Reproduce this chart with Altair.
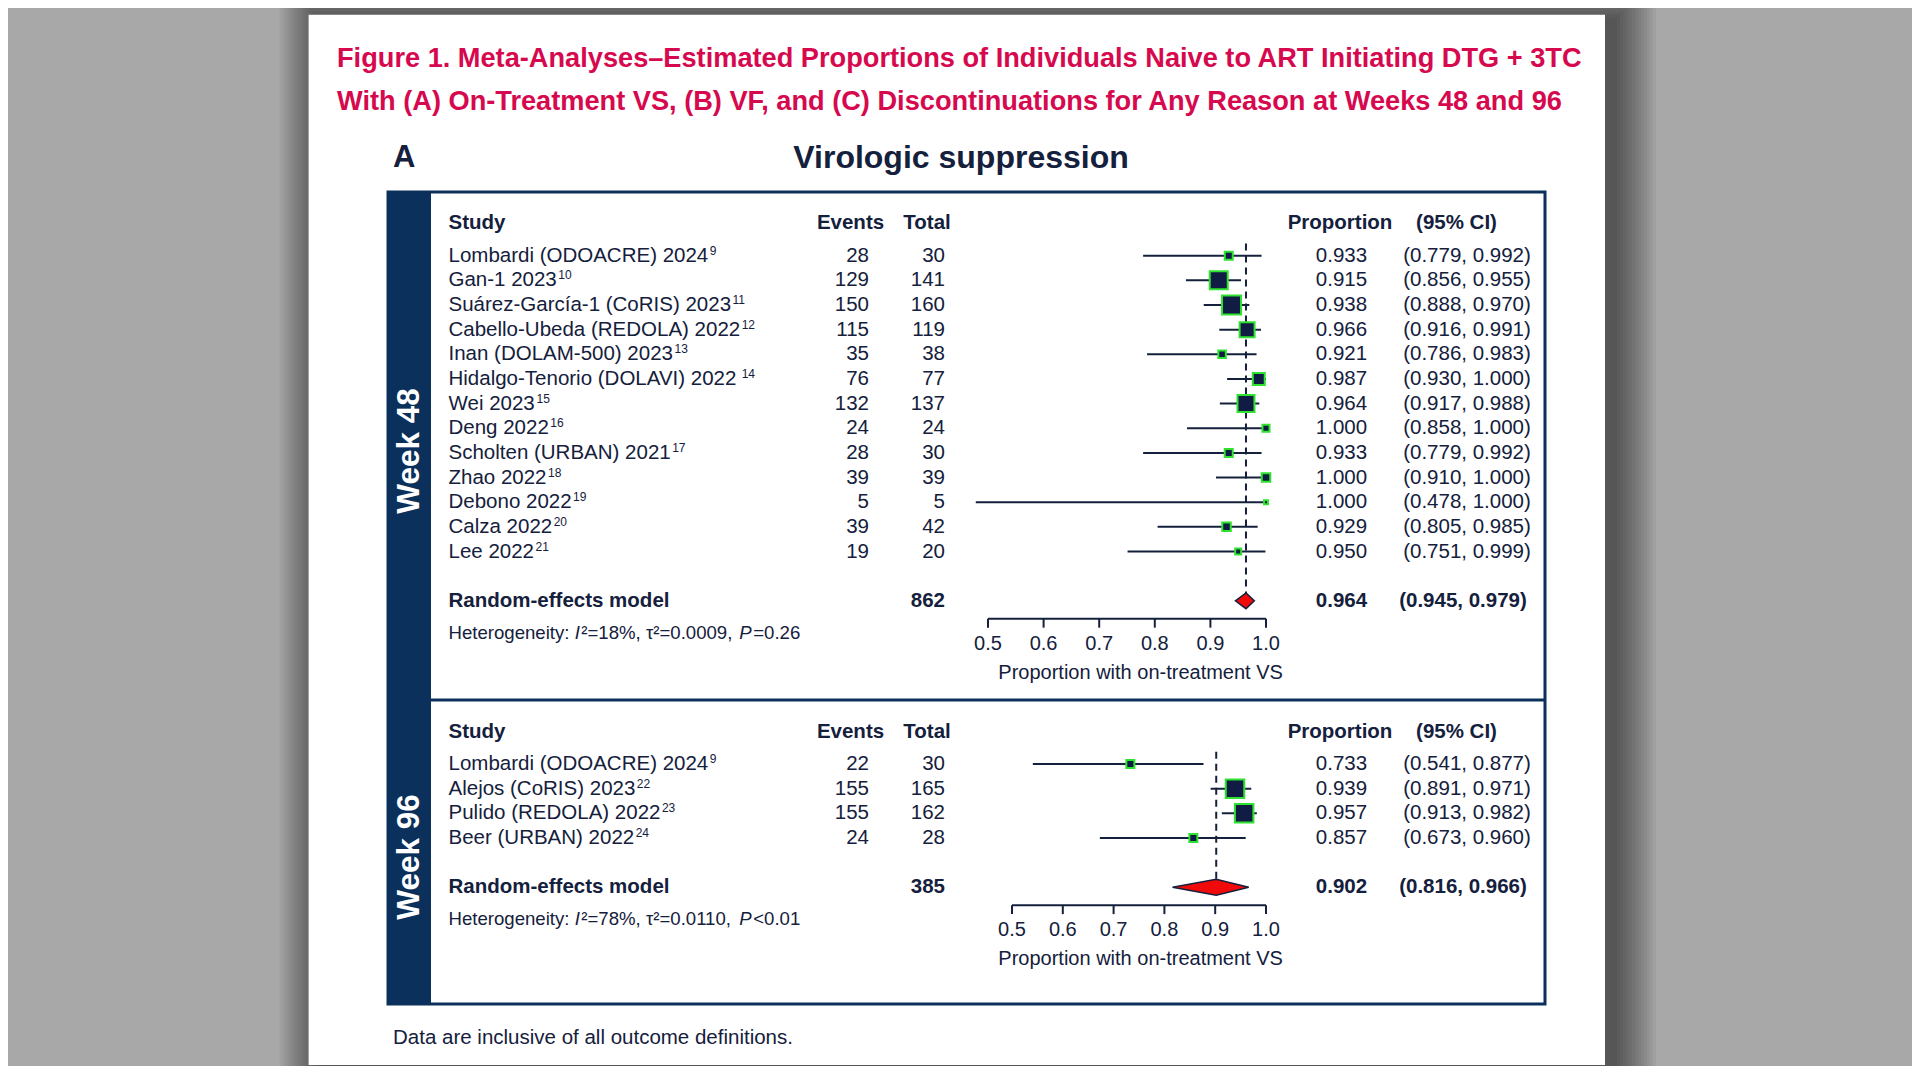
import altair as alt
import pandas as pd

# ---------------- data ----------------
studies48 = ["Lombardi (ODOACRE) 2024", "Gan-1 2023", "Suárez-García-1 (CoRIS) 2023",
             "Cabello-Ubeda (REDOLA) 2022", "Inan (DOLAM-500) 2023",
             "Hidalgo-Tenorio (DOLAVI) 2022", "Wei 2023", "Deng 2022",
             "Scholten (URBAN) 2021", "Zhao 2022", "Debono 2022", "Calza 2022", "Lee 2022"]
refs48 = ["9", "10", "11", "12", "13", "14", "15", "16", "17", "18", "19", "20", "21"]
events48 = [28, 129, 150, 115, 35, 76, 132, 24, 28, 39, 5, 39, 19]
total48 = [30, 141, 160, 119, 38, 77, 137, 24, 30, 39, 5, 42, 20]
prop48 = [0.933, 0.915, 0.938, 0.966, 0.921, 0.987, 0.964, 1.000, 0.933, 1.000, 1.000, 0.929, 0.950]
lower48 = [0.779, 0.856, 0.888, 0.916, 0.786, 0.930, 0.917, 0.858, 0.779, 0.910, 0.478, 0.805, 0.751]
upper48 = [0.992, 0.955, 0.970, 0.991, 0.983, 1.000, 0.988, 1.000, 0.992, 1.000, 1.000, 0.985, 0.999]
weight48 = [3.6, 18.3, 20.4, 12.7, 3.2, 8.1, 16.3, 2.8, 3.6, 4.1, 0.9, 4.1, 2.0]
pooled48 = [0.964, 0.945, 0.979]
n48 = 862
het48 = ["18%", "0.0009", "=0.26"]

studies96 = ["Lombardi (ODOACRE) 2024", "Alejos (CoRIS) 2023", "Pulido (REDOLA) 2022", "Beer (URBAN) 2022"]
refs96 = ["9", "22", "23", "24"]
events96 = [22, 155, 155, 24]
total96 = [30, 165, 162, 28]
prop96 = [0.733, 0.939, 0.957, 0.857]
lower96 = [0.541, 0.891, 0.913, 0.673]
upper96 = [0.877, 0.971, 0.982, 0.960]
weight96 = [7.9, 42.1, 42.1, 7.9]
pooled96 = [0.902, 0.816, 0.966]
n96 = 385
het96 = ["78%", "0.0110", "<0.01"]

axis_ticks = [0.5, 0.6, 0.7, 0.8, 0.9, 1.0]
headers = ["Study", "Events", "Total", "Proportion", "(95% CI)"]
title_lines = ["Figure 1. Meta-Analyses\u2013Estimated Proportions of Individuals Naive to ART Initiating DTG + 3TC",
               "With (A) On-Treatment VS, (B) VF, and (C) Discontinuations for Any Reason at Weeks 48 and 96"]
panel_letter = "A"
panel_title = "Virologic suppression"
x_title = "Proportion with on-treatment VS"
pooled_label = "Random-effects model"
footnote = "Data are inclusive of all outcome definitions."

# ---------------- style / layout ----------------
FONT = "Liberation Sans"
NAVY = "#0c305c"
INK = "#14203c"
BOXFILL = "#101c44"
GREEN = "#2fe22f"
RED = "#f00a0a"
CRIMSON = "#d6084e"
BG = "#a8a8a8"

W, H = 1904, 1058
OFF = 8
RH = 24.65
FS = 20.5


def P(v):
    return v - OFF


# Arial / Liberation Sans advance widths (1/1000 em), used to place inline pieces
AW = {c: 556 for c in "0123456789"}
AW.update(dict(zip("ABCDEFGHIJKLMNOPQRSTUVWXYZ",
                   [667, 667, 722, 722, 667, 611, 778, 722, 278, 500, 667, 556, 833,
                    722, 778, 667, 778, 722, 667, 611, 722, 667, 944, 667, 667, 611])))
AW.update(dict(zip("abcdefghijklmnopqrstuvwxyz",
                   [556, 556, 500, 556, 556, 278, 556, 556, 222, 222, 500, 222, 833,
                    556, 556, 556, 556, 333, 500, 278, 556, 500, 722, 500, 500, 500])))
AW.update({' ': 278, '(': 333, ')': 333, '-': 333, '\u00e1': 556, '\u00ed': 278,
           ':': 278, '\u00b2': 333, '=': 584, '%': 889, ',': 278,
           '.': 278, '\u03c4': 490, '<': 584})


def tw(s, size):
    return sum(AW.get(c, 556) for c in s) / 1000.0 * size


def one():
    return alt.Data(values=[{"k": 1}])


def deco_rect(x0, y0, x1, y1, **kw):
    return alt.Chart(one()).mark_rect(**kw).encode(
        x=alt.value(P(x0)), x2=alt.value(P(x1)), y=alt.value(P(y0)), y2=alt.value(P(y1)))


def deco_text(txt, x, y, **kw):
    return alt.Chart(one()).mark_text(text=txt, font=FONT, **kw).encode(
        x=alt.value(P(x)), y=alt.value(P(y)))


layers = []

# shadow + card
for i in range(14):
    s = 2 + i * 3
    layers.append(deco_rect(308.6 - s + 12, 14.7 - s + 5, 1605 + s + 10, 1065 + s + 6,
                            color="black", opacity=0.045))
layers.append(deco_rect(308.6, 14.7, 1605, 1065, color="white", opacity=1))

# titles
for k, line in enumerate(title_lines):
    layers.append(deco_text(line, 337, [59, 102][k], align="left", baseline="middle",
                            fontSize=27.2, fontWeight="bold", color=CRIMSON))
layers.append(deco_text(panel_letter, 393, 158, align="left", baseline="middle",
                        fontSize=31, fontWeight="bold", color=INK))
layers.append(deco_text(panel_title, 961, 158, align="center", baseline="middle",
                        fontSize=32, fontWeight="bold", color=INK))

# box frame
layers.append(deco_rect(388, 192, 431, 1004, color=NAVY, opacity=1))
layers.append(deco_rect(388, 192, 1545, 1004, fill="white", fillOpacity=0,
                        stroke=NAVY, strokeWidth=3))
layers.append(alt.Chart(one()).mark_rule(color=NAVY, strokeWidth=3).encode(
    x=alt.value(P(431)), x2=alt.value(P(1545)), y=alt.value(P(700))))
layers.append(deco_text("Week 48", 410, 451, align="center", baseline="middle", angle=270,
                        fontSize=31.5, fontWeight="bold", color="white"))
layers.append(deco_text("Week 96", 410, 857, align="center", baseline="middle", angle=270,
                        fontSize=31.5, fontWeight="bold", color="white"))
layers.append(deco_text(footnote, 393, 1038.4, align="left", baseline="middle",
                        fontSize=20.5, color=INK))


def panel(p, studies, refs, events, total, prop, lower, upper, weight, pooled, ntot, het):
    n = len(studies)
    ys = alt.Scale(domain=[0, 1], range=[P(p["row0"]), P(p["row0"]) + RH], nice=False, zero=False)
    xs = alt.Scale(domain=[0.5, 1.0], range=[P(p["x05"]), P(p["x10"])], nice=False, zero=False)

    def Y(f):
        return alt.Y(f, type="quantitative", scale=ys, axis=None, stack=None)

    def X(f):
        return alt.X(f, type="quantitative", scale=xs, axis=None)

    df = pd.DataFrame({"study": studies, "ref": refs, "events": events, "total": total,
                       "prop": prop, "lo": lower, "hi": upper, "weight": weight})
    df["row"] = list(range(n))
    df["ci"] = [f"({a:.3f}, {b:.3f})" for a, b in zip(lower, upper)]
    L = []

    def txt(data, field, x, align, row="row", size=FS, weight="normal", style="normal", fmt=None):
        t = alt.Text(field, type="nominal") if fmt is None else alt.Text(field, type="quantitative", format=fmt)
        return alt.Chart(data).mark_text(align=align, baseline="middle", font=FONT, fontSize=size,
                                         fontWeight=weight, fontStyle=style, color=INK).encode(
            x=alt.value(P(x)), y=Y(row), text=t)

    # table text
    L.append(txt(df, "study", 448.5, "left"))
    # superscript reference numbers, placed after each study name
    for i in range(n):
        sdf = pd.DataFrame({"ref": [refs[i]], "row": [i - 0.2]})
        L.append(txt(sdf, "ref", 448.5 + tw(studies[i], FS) + 1.5, "left", size=12))
    L.append(txt(df, "events", 869, "right"))
    L.append(txt(df, "total", 945, "right"))
    L.append(txt(df, "prop", 1341.5, "center", fmt=".3f"))
    L.append(txt(df, "ci", 1467, "center"))

    hrow = -1.31
    hdf = pd.DataFrame({"label": headers, "row": hrow})
    hx = [(448.5, "left"), (850.5, "center"), (927, "center"), (1340, "center"), (1456.5, "center")]
    for i, (x, al) in enumerate(hx):
        L.append(txt(hdf.iloc[[i]], "label", x, al, weight="bold"))

    prow = n + 1
    pdf = pd.DataFrame({"label": [pooled_label], "n": [ntot], "est": [pooled[0]],
                        "ci": [f"({pooled[1]:.3f}, {pooled[2]:.3f})"], "row": [prow]})
    L.append(txt(pdf, "label", 448.5, "left", weight="bold"))
    L.append(txt(pdf, "n", 945, "right", weight="bold"))
    L.append(txt(pdf, "est", 1341.5, "center", weight="bold", fmt=".3f"))
    L.append(txt(pdf, "ci", 1463, "center", weight="bold"))

    # heterogeneity line
    hs = 18.6
    segs = [("Heterogeneity: ", "normal"), ("I", "italic"),
            (f"\u00b2={het[0]}, \u03c4\u00b2={het[1]}, ", "normal"), ("P", "italic"), (het[2], "normal")]
    x = 448.5
    for s, st in segs:
        sdf = pd.DataFrame({"label": [s], "row": [n + 2.29]})
        L.append(txt(sdf, "label", x, "left", size=hs, style=st))
        x += tw(s, hs) + (1.5 if st == "italic" else 0)

    # CI lines
    L.append(alt.Chart(df).mark_rule(color=INK, strokeWidth=2).encode(
        x=X("lo"), x2="hi:Q", y=Y("row")))
    # dashed pooled line
    ddf = pd.DataFrame({"est": [pooled[0]], "top": [-0.5], "bot": [prow]})
    L.append(alt.Chart(ddf).mark_rule(color=INK, strokeWidth=2, strokeDash=[7, 5]).encode(
        x=X("est"), y=Y("top"), y2="bot:Q"))
    # boxes
    L.append(alt.Chart(df).mark_point(shape="square", filled=True, fill=BOXFILL, stroke=GREEN,
                                      strokeWidth=2, opacity=1).encode(
        x=X("prop"), y=Y("row"),
        size=alt.Size("weight:Q", scale=alt.Scale(domain=[0, max(weight)], range=[0, p["box_area"]]),
                      legend=None)))
    # diamond
    h = 0.32
    dia = pd.DataFrame({"x": [pooled[1], pooled[0], pooled[2]],
                        "top": [prow, prow - h, prow], "bot": [prow, prow + h, prow]})
    L.append(alt.Chart(dia).mark_area(fill=RED, stroke=INK, strokeWidth=1.5, opacity=1,
                                      fillOpacity=1, interpolate="linear").encode(
        x=X("x"), y=Y("top"), y2="bot:Q"))
    # axis
    ar = n + 1.73
    adf = pd.DataFrame({"lo": [min(axis_ticks)], "hi": [max(axis_ticks)], "row": [ar]})
    L.append(alt.Chart(adf).mark_rule(color=INK, strokeWidth=2).encode(
        x=X("lo"), x2="hi:Q", y=Y("row")))
    tdf = pd.DataFrame({"t": axis_ticks, "r0": ar, "r1": ar + 0.36, "rl": ar + 1.02})
    L.append(alt.Chart(tdf).mark_rule(color=INK, strokeWidth=2).encode(
        x=X("t"), y=Y("r0"), y2="r1:Q"))
    L.append(alt.Chart(tdf).mark_text(align="center", baseline="middle", font=FONT, fontSize=20,
                                      color=INK).encode(
        x=X("t"), y=Y("rl"), text=alt.Text("t:Q", format=".1f")))
    xtdf = pd.DataFrame({"label": [x_title], "row": [ar + 2.18]})
    L.append(txt(xtdf, "label", 1140.6, "center", size=20))
    return L


P48 = dict(row0=255.7, x05=988.0, x10=1266.0, box_area=361)
P96 = dict(row0=764.0, x05=1012.0, x10=1266.0, box_area=342)

layers += panel(P48, studies48, refs48, events48, total48, prop48, lower48, upper48,
                weight48, pooled48, n48, het48)
layers += panel(P96, studies96, refs96, events96, total96, prop96, lower96, upper96,
                weight96, pooled96, n96, het96)

chart = alt.layer(*layers).resolve_scale(
    x="independent", y="independent", size="independent"
).properties(
    width=W, height=H, padding=0, autosize=alt.AutoSizeParams(type="none")
).configure(background=BG).configure_view(strokeWidth=0)

chart.save("out.html", embed_options={"renderer": "svg", "actions": False})
